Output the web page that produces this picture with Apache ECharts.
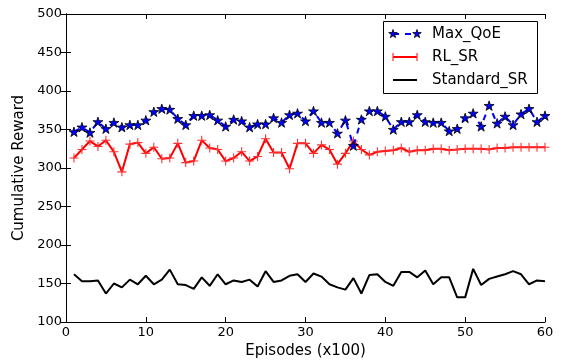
<!DOCTYPE html>
<html>
<head>
<meta charset="utf-8">
<script src="https://cdn.jsdelivr.net/npm/echarts@6/dist/echarts.min.js"></script>
<style>html,body{margin:0;padding:0;background:#fff}#c{width:562px;height:364px}</style>
</head>
<body>
<div id="c"></div>
<script>
const episodes = [1,2,3,4,5,6,7,8,9,10,11,12,13,14,15,16,17,18,19,20,21,22,23,24,25,26,27,28,29,30,31,32,33,34,35,36,37,38,39,40,41,42,43,44,45,46,47,48,49,50,51,52,53,54,55,56,57,58,59,60];
const maxQoE = [347,353,346,360,351,359,353,356,356,362,373,377,376,364,356,368,368,369,362,354,363,361,353,357,357,365,359,369,371,361,374,359,359,345,362,329,363,374,374,367,350,360,360,369,360,359,359,348,351,365,371,354,381,358,367,356,370,377,360,368];
const rlSR = [313,324,335,328,336,321,295,331,333,319,327,312,313,332,307,309,336,326,324,309,313,321,309,315,338,320,320,299,332,332,319,330,324,305,319,335,324,317,321,322,323,326,321,323,323,325,325,323,324,325,325,325,324,326,326,327,327,327,327,327];
const standardSR = [162,153,153,154,137,150,145,155,149,160,149,155,168,149,148,143,158,147,162,149,154,152,155,146,166,152,154,160,162,152,163,159,149,145,142,157,137,161,162,152,147,165,165,158,167,149,158,158,132,132,169,148,156,159,162,166,162,149,154,153];
const seriesNames = ['Max_QoE','RL_SR','Standard_SR'];
const xTitle = 'Episodes (x100)';
const yTitle = 'Cumulative Reward';

const FONT = 'DejaVu Sans';
const STAR = 'path://M10,0L12.25,6.91L19.51,6.91L13.63,11.18L15.88,18.09L10,13.82L4.12,18.09L6.37,11.18L0.49,6.91L7.75,6.91Z';
const PLUS = 'path://M4.4,0H5.6V4.4H10V5.6H5.6V10H4.4V5.6H0V4.4H4.4Z';

function pairs(v){ return episodes.map((e,i)=>[e,v[i]]); }
function starPts(cx,cy,r){
  const pts=[];
  for(let k=0;k<10;k++){
    const a=-Math.PI/2+k*Math.PI/5;
    const rr = k%2===0 ? r : r*0.382;
    pts.push([cx+rr*Math.cos(a), cy+rr*Math.sin(a)]);
  }
  return pts;
}

const chart = echarts.init(document.getElementById('c'), null, {renderer:'canvas'});
const axisCommon = {
  axisLine:{show:true,lineStyle:{color:'#000',width:1}},
  axisTick:{show:true,inside:true,length:5,lineStyle:{color:'#000',width:1}},
  splitLine:{show:false}
};
const lx1=393, lx2=417;
chart.setOption({
  animation:false,
  backgroundColor:'#fff',
  textStyle:{fontFamily:FONT},
  grid:{left:66,right:17,top:14,bottom:42,containLabel:false},
  xAxis:[
    Object.assign({type:'value',min:0,max:60,interval:10,position:'bottom',
      name:xTitle,nameLocation:'middle',nameGap:21,
      nameTextStyle:{fontFamily:FONT,fontSize:15,color:'#000'},
      axisLabel:{fontFamily:FONT,fontSize:13,color:'#000',margin:4}},axisCommon),
    Object.assign({type:'value',min:0,max:60,interval:10,position:'top',axisLabel:{show:false}},axisCommon)
  ],
  yAxis:[
    Object.assign({type:'value',min:100,max:500,interval:50,position:'left',
      name:yTitle,nameLocation:'middle',nameGap:30,
      nameTextStyle:{fontFamily:FONT,fontSize:15,color:'#000'},
      axisLabel:{fontFamily:FONT,fontSize:13,color:'#000',margin:4}},axisCommon),
    Object.assign({type:'value',min:100,max:500,interval:50,position:'right',axisLabel:{show:false}},axisCommon)
  ],
  series:[
    {name:seriesNames[2],type:'line',data:pairs(standardSR),showSymbol:false,symbol:'none',
      lineStyle:{color:'#000',width:2},z:2},
    {name:seriesNames[1],type:'line',data:pairs(rlSR),symbol:PLUS,symbolSize:9,
      itemStyle:{color:'#ff3030'},lineStyle:{color:'#ff0000',width:2},z:3},
    {name:seriesNames[0],type:'line',data:pairs(maxQoE),symbol:STAR,symbolSize:10,symbolKeepAspect:true,
      itemStyle:{color:'#0000ff',borderColor:'#000',borderWidth:0.8},
      lineStyle:{color:'#0000ff',width:2,type:[6,6]},z:4}
  ],
  graphic:[
    {type:'rect',shape:{x:383.5,y:21.5,width:154,height:72},style:{fill:'#fff',stroke:'#000',lineWidth:1},z:10},
    {type:'line',shape:{x1:lx1,y1:34,x2:lx2,y2:34},style:{stroke:'#0000ff',lineWidth:2,lineDash:[6,6]},z:11},
    {type:'polygon',shape:{points:starPts(lx1,34,4.5)},style:{fill:'#0000ff',stroke:'#000',lineWidth:0.8},z:12},
    {type:'polygon',shape:{points:starPts(lx2,34,4.5)},style:{fill:'#0000ff',stroke:'#000',lineWidth:0.8},z:12},
    {type:'text',x:432,y:34,style:{text:seriesNames[0],font:'15px "DejaVu Sans"',fill:'#000',verticalAlign:'middle'},z:12},
    {type:'line',shape:{x1:lx1,y1:57,x2:lx2,y2:57},style:{stroke:'#ff0000',lineWidth:2},z:11},
    {type:'line',shape:{x1:lx1,y1:53,x2:lx1,y2:61},style:{stroke:'#ff3030',lineWidth:1.2},z:12},
    {type:'line',shape:{x1:lx2,y1:53,x2:lx2,y2:61},style:{stroke:'#ff3030',lineWidth:1.2},z:12},
    {type:'text',x:432,y:57,style:{text:seriesNames[1],font:'15px "DejaVu Sans"',fill:'#000',verticalAlign:'middle'},z:12},
    {type:'line',shape:{x1:lx1,y1:80,x2:lx2,y2:80},style:{stroke:'#000',lineWidth:2},z:11},
    {type:'text',x:432,y:80,style:{text:seriesNames[2],font:'15px "DejaVu Sans"',fill:'#000',verticalAlign:'middle'},z:12}
  ]
});
</script>
</body>
</html>
